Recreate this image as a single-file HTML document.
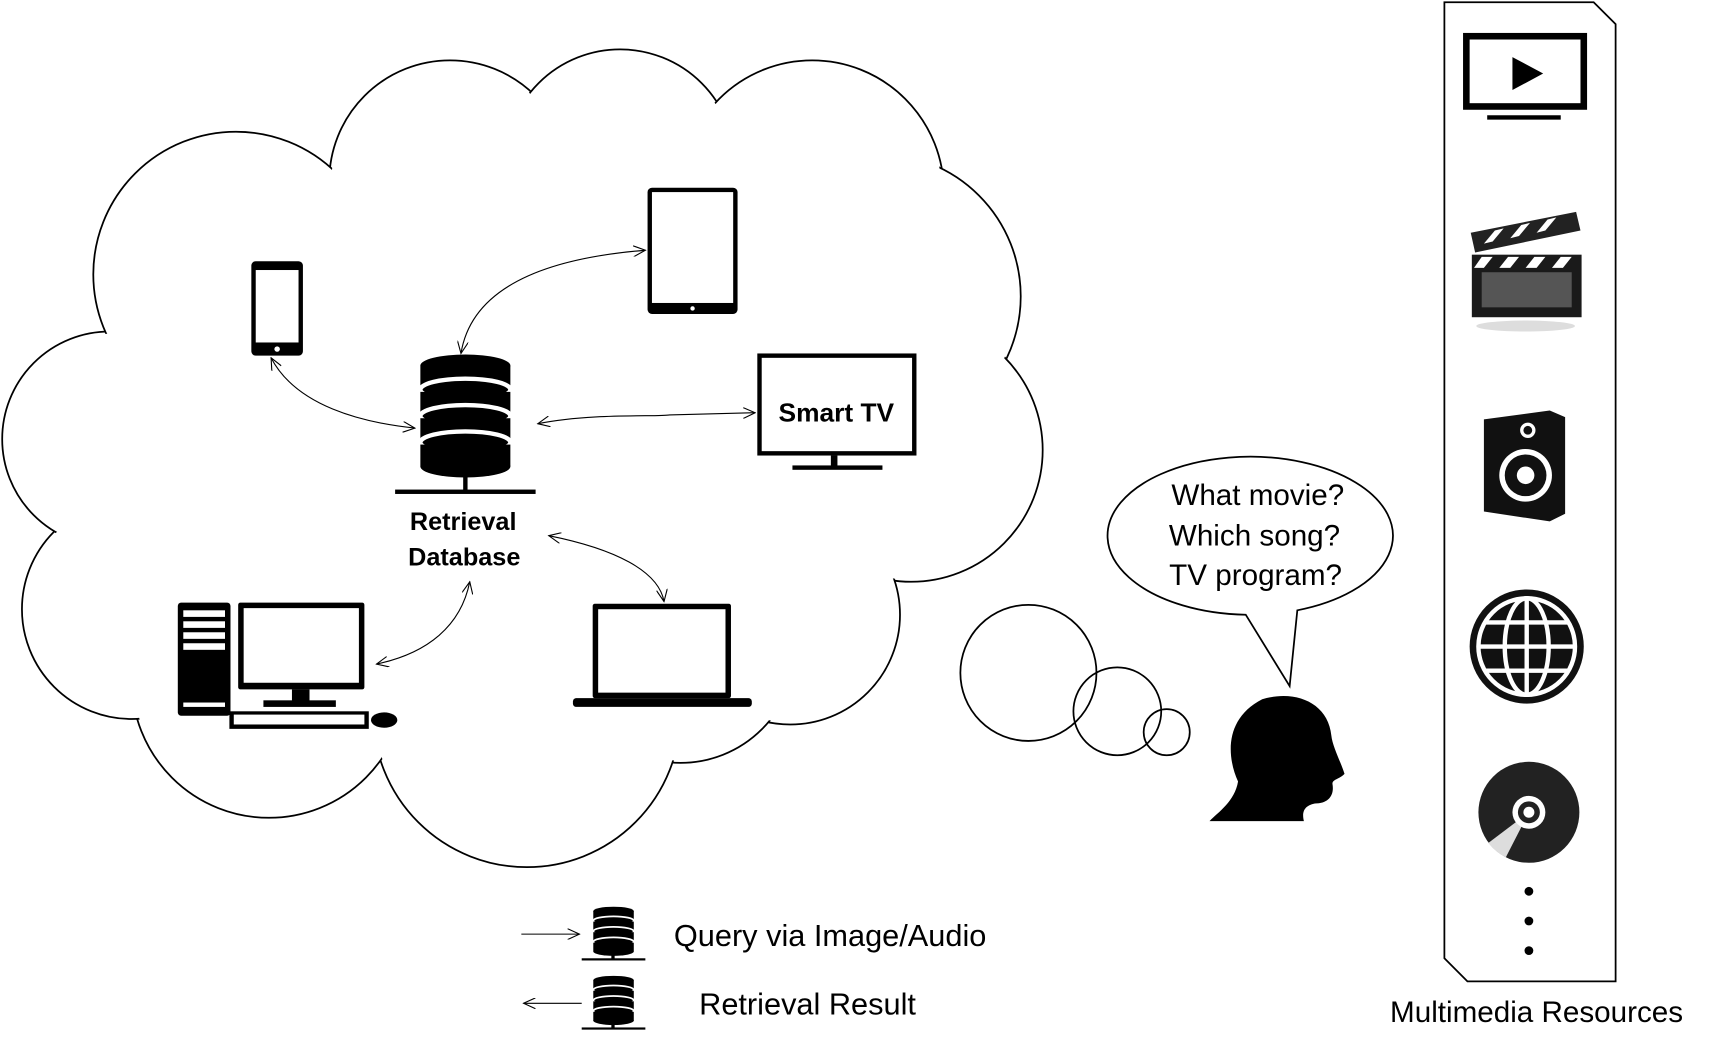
<!DOCTYPE html>
<html><head><meta charset="utf-8"><style>
html,body{margin:0;padding:0;background:#fff;}
svg{display:block;}
text{font-family:"Liberation Sans",sans-serif;}
</style></head><body>
<svg width="1710" height="1045" viewBox="0 0 1558 952" preserveAspectRatio="none" xmlns="http://www.w3.org/2000/svg">
<defs>
<marker id="ah" markerWidth="12" markerHeight="10" refX="11" refY="5" orient="auto-start-reverse" markerUnits="userSpaceOnUse">
<path d="M0,0 L11,5 L0,10" fill="none" stroke="#000" stroke-width="1"/>
</marker>
<g id="db">
<ellipse cx="0" cy="0" rx="41" ry="10" fill="#000"/>
<rect x="-41" y="0" width="82" height="22" fill="#000"/>
<ellipse cx="0" cy="22" rx="41" ry="10" fill="#000" stroke="#fff" stroke-width="4"/>
<rect x="-41" y="24" width="82" height="20" fill="#000"/>
<ellipse cx="0" cy="46" rx="41" ry="10" fill="#000" stroke="#fff" stroke-width="4"/>
<rect x="-41" y="48" width="82" height="22" fill="#000"/>
<ellipse cx="0" cy="70" rx="41" ry="10" fill="#000" stroke="#fff" stroke-width="4"/>
<rect x="-41" y="72" width="82" height="20" fill="#000"/>
<ellipse cx="0" cy="92" rx="41" ry="10" fill="#000"/>
</g>
</defs>
<!-- cloud -->
<g fill="#fff" stroke="#000" stroke-width="1.6">
<circle cx="410" cy="165" r="110"/><circle cx="565" cy="150" r="105"/><circle cx="740" cy="175" r="120"/>
<circle cx="800" cy="270" r="130"/><circle cx="830" cy="410" r="120"/><circle cx="720" cy="560" r="100"/>
<circle cx="620" cy="590" r="105"/><circle cx="480" cy="650" r="140"/><circle cx="245" cy="620" r="125"/>
<circle cx="120" cy="555" r="100"/><circle cx="100" cy="400" r="98"/><circle cx="215" cy="250" r="130"/>
</g>
<g fill="#fff">
<circle cx="410" cy="165" r="108"/><circle cx="565" cy="150" r="103"/><circle cx="740" cy="175" r="118"/>
<circle cx="800" cy="270" r="128"/><circle cx="830" cy="410" r="118"/><circle cx="720" cy="560" r="98"/>
<circle cx="620" cy="590" r="103"/><circle cx="480" cy="650" r="138"/><circle cx="245" cy="620" r="123"/>
<circle cx="120" cy="555" r="98"/><circle cx="100" cy="400" r="96"/><circle cx="215" cy="250" r="128"/>
<circle cx="480" cy="400" r="290"/>
<circle cx="250" cy="450" r="130"/><circle cx="150" cy="480" r="90"/>
</g>
<!-- phone -->
<rect x="229" y="238" width="47" height="86" rx="4" fill="#000"/>
<rect x="233" y="246" width="39" height="66" fill="#fff"/>
<circle cx="252.5" cy="318" r="2.5" fill="#fff"/>
<!-- tablet -->
<rect x="590" y="171" width="82" height="115" rx="4" fill="#000"/>
<rect x="594" y="175" width="74" height="101" fill="#fff"/>
<circle cx="631" cy="281" r="2" fill="#fff"/>
<!-- smart tv -->
<rect x="690" y="322" width="145" height="93" fill="#000"/>
<rect x="694" y="326" width="137" height="85" fill="#fff"/>
<rect x="757" y="415" width="6" height="10" fill="#000"/>
<rect x="722" y="424" width="82" height="4" fill="#000"/>
<text x="762" y="384" font-size="24" font-weight="bold" text-anchor="middle">Smart TV</text>
<!-- database -->
<use href="#db" x="424" y="333"/>
<rect x="422" y="428" width="4" height="20" fill="#000"/>
<rect x="360" y="446" width="128" height="4" fill="#000"/>
<text x="422" y="483" font-size="23" font-weight="bold" text-anchor="middle">Retrieval</text>
<text x="423" y="515" font-size="23" font-weight="bold" text-anchor="middle">Database</text>
<!-- desktop -->
<rect x="162" y="549" width="48" height="103" rx="3" fill="#000"/>
<rect x="167" y="556" width="38" height="6" fill="#fff"/><rect x="167" y="566" width="38" height="6" fill="#fff"/>
<rect x="167" y="576" width="38" height="6" fill="#fff"/><rect x="167" y="586" width="38" height="6" fill="#fff"/>
<rect x="167" y="640" width="38" height="4" fill="#fff"/>
<rect x="217" y="549" width="115" height="79" rx="2" fill="#000"/>
<rect x="222" y="554" width="105" height="68" fill="#fff"/>
<rect x="266" y="628" width="16" height="12" fill="#000"/>
<rect x="240" y="638" width="66" height="6" fill="#000"/>
<rect x="209" y="648" width="127" height="16" fill="#000"/>
<rect x="213" y="651" width="119" height="9" fill="#fff"/>
<ellipse cx="350" cy="656" rx="12" ry="7" fill="#000"/>
<!-- laptop -->
<rect x="540" y="550" width="126" height="86" rx="2" fill="#000"/>
<rect x="545" y="555" width="116" height="76" fill="#fff"/>
<rect x="522" y="636" width="163" height="8" rx="3" fill="#000"/>
<!-- arrows -->
<g fill="none" stroke="#000" stroke-width="1" marker-start="url(#ah)" marker-end="url(#ah)">
<path d="M420,322 C430,260 500,235 588,228"/>
<path d="M247,326 C270,370 330,385 378,390"/>
<path d="M490,386 C540,376 600,380 610,378 L688,376"/>
<path d="M500,488 C560,500 600,520 605,548"/>
<path d="M428,530 C420,570 390,595 343,605"/>
</g>
<!-- thought bubbles -->
<g fill="none" stroke="#000" stroke-width="1.6">
<circle cx="937" cy="613" r="62"/><circle cx="1018" cy="648" r="40"/><circle cx="1063" cy="667" r="21"/>
</g>
<path d="M1135,560 A130,72 0 1 1 1182,556 L1175,625 Z" fill="#fff" stroke="#000" stroke-width="1.6"/>
<text font-size="27" text-anchor="middle"><tspan x="1146" y="460">What movie?</tspan><tspan x="1143" y="497">Which song?</tspan><tspan x="1144" y="533">TV program?</tspan></text>
<!-- head -->
<path d="M1150,637 C1180,628 1210,640 1213,670 C1214,680 1222,695 1225,705 C1220,710 1214,710 1214,714 C1216,725 1210,732 1198,732 C1188,734 1186,740 1188,748 L1102,748 C1110,740 1125,730 1128,712 C1118,690 1115,655 1150,637 Z" fill="#000"/>
<!-- right panel -->
<path d="M1316,2 L1452,2 L1472,22 L1472,894 L1337,894 L1316,873 Z" fill="none" stroke="#000" stroke-width="1.6"/>
<rect x="1333" y="30" width="113" height="70" fill="#000"/>
<rect x="1339" y="36" width="101" height="58" fill="#fff"/>
<path d="M1378,52 L1378,82 L1406,67 Z" fill="#000"/>
<rect x="1355" y="105" width="67" height="4" fill="#000"/>
<!-- clapper -->
<path d="M1340,212 L1436,193 L1440,210 L1344,230 Z" fill="#222"/>
<g fill="#fff"><path d="M1352,222 L1362,210 L1370,208 L1360,220Z"/><path d="M1376,217 L1386,205 L1394,203 L1384,215Z"/><path d="M1400,212 L1410,200 L1418,198 L1408,210Z"/></g>
<rect x="1341" y="232" width="100" height="57" fill="#1a1a1a"/>
<rect x="1350" y="248" width="82" height="32" fill="#555"/>
<g fill="#fff"><path d="M1350,234 L1360,234 L1352,244 L1343,244Z"/><path d="M1374,234 L1384,234 L1376,244 L1366,244Z"/><path d="M1398,234 L1408,234 L1400,244 L1390,244Z"/><path d="M1422,234 L1432,234 L1424,244 L1414,244Z"/></g>
<ellipse cx="1390" cy="297" rx="45" ry="5" fill="#ddd"/>
<!-- speaker -->
<path d="M1352,382 L1412,374 L1426,380 L1426,468 L1412,475 L1352,466 Z" fill="#111"/>
<circle cx="1392" cy="392" r="7" fill="#fff"/><circle cx="1392" cy="392" r="4" fill="#111"/>
<circle cx="1390" cy="433" r="24" fill="#fff"/><circle cx="1390" cy="433" r="19" fill="#111"/><circle cx="1390" cy="433" r="8" fill="#fff"/>
<!-- globe -->
<circle cx="1391" cy="589" r="52" fill="#111"/>
<g fill="none" stroke="#fff" stroke-width="4">
<circle cx="1391" cy="589" r="44"/><ellipse cx="1391" cy="589" rx="20" ry="44"/>
<line x1="1391" y1="545" x2="1391" y2="633"/><line x1="1347" y1="589" x2="1435" y2="589"/>
<line x1="1353" y1="567" x2="1429" y2="567"/><line x1="1353" y1="611" x2="1429" y2="611"/>
</g>
<!-- disc -->
<circle cx="1393" cy="740" r="46" fill="#222"/>
<path d="M1393,740 L1356,768 A46,46 0 0 0 1372,781 Z" fill="#ddd"/>
<circle cx="1393" cy="740" r="15" fill="#fff"/><circle cx="1393" cy="740" r="10" fill="#222"/><circle cx="1393" cy="740" r="5" fill="#fff"/>
<circle cx="1393" cy="812" r="4" fill="#000"/><circle cx="1393" cy="839" r="4" fill="#000"/><circle cx="1393" cy="866" r="4" fill="#000"/>
<text x="1400" y="931" font-size="27" text-anchor="middle">Multimedia Resources</text>
<!-- legend -->
<line x1="475" y1="851" x2="528" y2="851" stroke="#000" stroke-width="1" marker-end="url(#ah)"/>
<line x1="530" y1="914" x2="477" y2="914" stroke="#000" stroke-width="1" marker-end="url(#ah)"/>
<g transform="translate(559,830) scale(0.45,0.4)"><use href="#db"/></g>
<rect x="557" y="866" width="3" height="8" fill="#000"/><rect x="530" y="873" width="58" height="2" fill="#000"/>
<g transform="translate(559,893) scale(0.45,0.4)"><use href="#db"/></g>
<rect x="557" y="929" width="3" height="8" fill="#000"/><rect x="530" y="936" width="58" height="2" fill="#000"/>
<text x="614" y="862" font-size="28">Query via Image/Audio</text>
<text x="637" y="924" font-size="28">Retrieval Result</text>
</svg>
</body></html>
